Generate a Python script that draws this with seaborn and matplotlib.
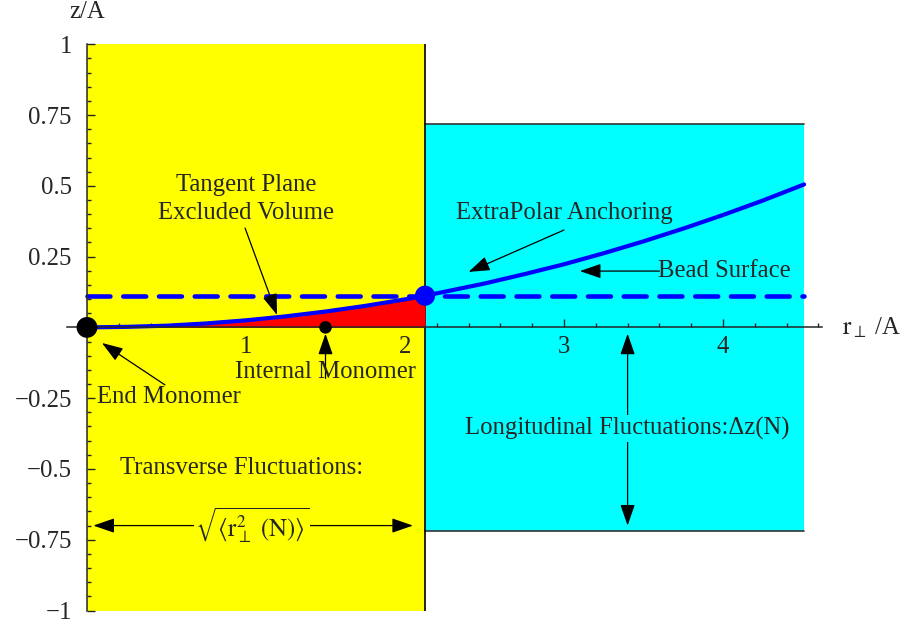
import matplotlib
matplotlib.use("Agg")
import matplotlib.pyplot as plt
import seaborn as sns
import numpy as np
from matplotlib.ticker import FixedLocator, FixedFormatter, MultipleLocator

# Polymer contour near the bead (r_perp/A vs z/A)
r_curve = [0.0, 0.25, 0.5, 0.75, 1.0, 1.25, 1.5, 1.75, 2.0, 2.126, 2.25, 2.5,
           2.75, 3.0, 3.25, 3.5, 3.75, 4.0, 4.25, 4.51]
z_curve = [0.000, 0.002, 0.006, 0.014, 0.025, 0.039, 0.056, 0.076, 0.099, 0.112,
           0.126, 0.155, 0.188, 0.223, 0.262, 0.304, 0.349, 0.397, 0.448, 0.505]

# Regions and reference levels
transverse_width = 2.126      # sqrt(<r_perp^2(N)>)
longitudinal_half = 0.72      # Delta z(N)
bead_surface_z = 0.112
curve_end_r = 4.51

# Monomers
end_monomer = (0.0, 0.0)
internal_monomer = (1.5, 0.0)
anchor_point = (2.126, 0.112)

x_ticks = [1, 2, 3, 4]
x_tick_labels = ["1", "2", "3", "4"]
y_ticks = [-1, -0.75, -0.5, -0.25, 0.25, 0.5, 0.75, 1]
y_tick_labels = ["\u22121", "\u22120.75", "\u22120.5", "\u22120.25", "0.25", "0.5", "0.75", "1"]

sns.set_style("ticks")
plt.rcParams["font.family"] = ["Liberation Serif", "DejaVu Serif"]
plt.rcParams["mathtext.fontset"] = "stix"
FS = 17.8

fig = plt.figure(figsize=(9.04, 6.24), dpi=100)
W, H = 904, 624
px_x0, px_x1 = 67, 822
px_ytop, px_ybot = 44.3, 610.5
ax = fig.add_axes([px_x0 / W, (H - px_ybot) / H, (px_x1 - px_x0) / W, (px_ybot - px_ytop) / H])
ax.set_xlim(-20 / 159, 735 / 159)
ax.set_ylim(-1, 1)

# Background regions
ax.fill_between([0, transverse_width], -1, 1, color="#FFFF00", lw=0, zorder=0)
ax.fill_between([transverse_width, curve_end_r], -longitudinal_half, longitudinal_half,
                color="#00FFFF", lw=0, zorder=0)
ax.plot([transverse_width, curve_end_r], [longitudinal_half] * 2, color="#333333", lw=1.2, zorder=1)
ax.plot([transverse_width, curve_end_r], [-longitudinal_half] * 2, color="#333333", lw=1.2, zorder=1)
ax.plot([transverse_width] * 2, [-1, 1], color="black", lw=1.2, zorder=1)

# Excluded volume under the contour
r_arr = np.array(r_curve)
z_arr = np.array(z_curve)
mask = r_arr <= transverse_width + 1e-9
ax.fill_between(r_arr[mask], 0, z_arr[mask], color="#FF0000", lw=0, zorder=2)

# Bead surface (dashed)
ax.plot([0, curve_end_r], [bead_surface_z] * 2, color="#0000FF", lw=3.3,
        dashes=(5, 2.8), dash_capstyle="round", zorder=3)

# Contour
sns.lineplot(x=r_curve, y=z_curve, ax=ax, color="#0000FF", lw=3.0, zorder=4,
             sort=False, estimator=None)

# Monomers
sns.scatterplot(x=[end_monomer[0]], y=[end_monomer[1]], ax=ax, color="black", s=15 ** 2,
                edgecolor="none", zorder=6, clip_on=False)
sns.scatterplot(x=[internal_monomer[0]], y=[internal_monomer[1]], ax=ax, color="black", s=9 ** 2,
                edgecolor="none", zorder=6)
sns.scatterplot(x=[anchor_point[0]], y=[anchor_point[1]], ax=ax, color="#0000FF", s=14.5 ** 2,
                edgecolor="none", zorder=6)

# Axes through the origin
for side in ["top", "right"]:
    ax.spines[side].set_visible(False)
ax.spines["left"].set_position(("data", 0))
ax.spines["bottom"].set_position(("data", 0))
for side in ["left", "bottom"]:
    ax.spines[side].set_linewidth(1.1)
    ax.spines[side].set_zorder(5)
ax.xaxis.set_major_locator(FixedLocator(x_ticks))
ax.xaxis.set_major_formatter(FixedFormatter(x_tick_labels))
ax.xaxis.set_minor_locator(MultipleLocator(0.2))
ax.yaxis.set_major_locator(FixedLocator(y_ticks))
ax.yaxis.set_major_formatter(FixedFormatter(y_tick_labels))
ax.yaxis.set_minor_locator(MultipleLocator(0.05))
ax.tick_params(which="both", direction="in", width=1.0, labelsize=FS)
ax.tick_params(which="major", length=5.5)
ax.tick_params(which="minor", length=3)
ax.tick_params(axis="x", pad=6)
ax.tick_params(axis="y", pad=11)
ax.set_xlabel("")
ax.set_ylabel("")

ax.text(0, 1.115, "z/A", ha="center", va="center", fontsize=FS, clip_on=False)
ax.text(4.75, 0, r"$\mathrm{r}_{\perp}$ /A", ha="left", va="center", fontsize=FS, clip_on=False)

ARROW = "-|>,head_length=13,head_width=4.5"
DARROW = "<|-|>,head_length=13,head_width=4.5"


def arrow(start, tip, style=ARROW):
    ax.annotate("", xy=tip, xytext=start,
                arrowprops=dict(arrowstyle=style, color="black", lw=0.9,
                                shrinkA=0, shrinkB=0, mutation_scale=1),
                zorder=7)


# Annotations
ax.text(1.0, 0.503, "Tangent Plane", ha="center", va="center", fontsize=FS, zorder=8)
ax.text(1.0, 0.404, "Excluded Volume", ha="center", va="center", fontsize=FS, zorder=8)
arrow((0.994, 0.351), (1.195, 0.044))

ax.text(3.0, 0.404, "ExtraPolar Anchoring", ha="center", va="center", fontsize=FS, zorder=8)
arrow((3.0, 0.344), (2.40, 0.196))

ax.text(3.59, 0.199, "Bead Surface", ha="left", va="center", fontsize=FS, zorder=8)
arrow((3.6, 0.199), (3.10, 0.199))

ax.text(0.513, -0.246, "End Monomer", ha="center", va="center", fontsize=FS, zorder=8)
arrow((0.49, -0.203), (0.094, -0.055))

arrow((1.5, -0.18), (1.5, -0.022))
ax.text(1.497, -0.156, "Internal Monomer", ha="center", va="center", fontsize=FS, zorder=8)

ax.text(0.973, -0.497, "Transverse Fluctuations:", ha="center", va="center", fontsize=FS, zorder=8)
arrow((0.04, -0.70), (2.05, -0.70), DARROW)
ax.text(1.04, -0.70, r"$\sqrt{\langle \mathrm{r}_{\perp}^{2}\ (\mathrm{N})\rangle}$",
        ha="center", va="center", fontsize=FS, zorder=8,
        bbox=dict(facecolor="#FFFF00", edgecolor="none", pad=0.5))

arrow((3.40, -0.70), (3.40, -0.022), DARROW)
ax.text(3.40, -0.356, "Longitudinal Fluctuations:\u0394z(N)", ha="center", va="center",
        fontsize=FS, zorder=8, bbox=dict(facecolor="#00FFFF", edgecolor="none", pad=1.5))

fig.savefig("out.png", dpi=100)
